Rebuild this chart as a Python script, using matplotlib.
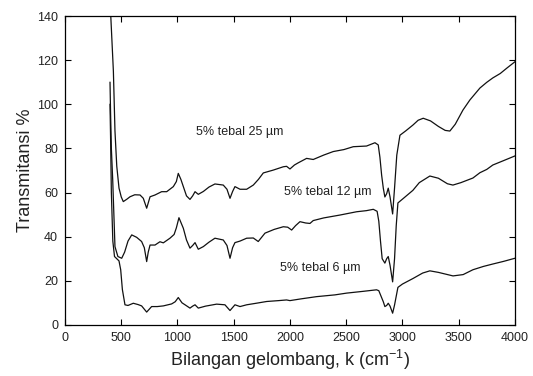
import matplotlib
matplotlib.use('Agg')
import matplotlib.pyplot as plt

plt.rcParams['font.family'] = ['Liberation Sans', 'DejaVu Sans']
plt.rcParams['mathtext.default'] = 'regular'

# 5% tebal 25 um
k25 = [405, 430, 444, 460, 480, 500, 518, 550, 578, 620, 667, 696, 726, 756, 800, 859,
       904, 963, 990, 1007, 1030, 1052, 1080, 1111, 1135, 1156, 1185, 1230, 1280, 1333,
       1407, 1440, 1467, 1490, 1511, 1556, 1615, 1674, 1720, 1763, 1852, 1941, 1970, 2000,
       2040, 2074, 2148, 2207, 2300, 2385, 2480, 2563, 2681, 2756, 2785, 2800, 2815, 2830,
       2844, 2860, 2874, 2890, 2913, 2930, 2950, 2978, 3030, 3093, 3140, 3185, 3250, 3320,
       3380, 3422, 3470, 3538, 3600, 3689, 3750, 3804, 3870, 3930, 4000]
t25 = [142, 115, 88, 72, 62, 58, 55.9, 57, 58.1, 59, 58.9, 57.4, 52.9, 58.1, 58.9, 60.4,
       60.4, 62.7, 65, 68.7, 66, 62.7, 58.5, 56.9, 58.5, 60.4, 59.2, 60.5, 62.5, 63.9,
       63.4, 61.5, 57.4, 60.5, 62.7, 61.5, 61.5, 63.4, 66, 68.9, 70.2, 71.7, 71.9, 70.7,
       72.5, 73.5, 75.5, 75, 77, 78.6, 79.5, 80.8, 81.1, 82.6, 81.6, 76, 68, 62,
       58, 59.5, 62, 58, 50.3, 62, 77, 86, 88, 90.6, 92.8, 93.7, 92.5, 90,
       88.2, 87.9, 91, 97.4, 102, 107.4, 110, 112, 114, 116.5, 119.3]

# 5% tebal 12 um
k12 = [400, 405, 412, 424, 444, 470, 504, 530, 560, 593, 637, 681, 705, 726, 740, 756,
       800, 844, 874, 933, 970, 990, 1013, 1030, 1052, 1080, 1111, 1135, 1156, 1185, 1230,
       1280, 1333, 1407, 1440, 1467, 1490, 1511, 1556, 1615, 1674, 1718, 1778, 1860, 1941,
       1980, 2015, 2050, 2089, 2140, 2178, 2207, 2300, 2444, 2593, 2680, 2741, 2775, 2790,
       2805, 2820, 2844, 2860, 2874, 2890, 2913, 2930, 2945, 2960, 3000, 3093, 3150, 3244,
       3320, 3400, 3449, 3520, 3627, 3689, 3750, 3804, 3900, 4000]
t12 = [110, 96, 80, 65.7, 35.5, 31, 30.2, 33, 38, 40.8, 39.7, 37.8, 35, 28.7, 33, 36.2,
       36.2, 37.7, 37.2, 39.3, 41, 44, 48.6, 46.5, 43.8, 38.5, 34.8, 36, 37.3, 34.3, 35.5,
       37.5, 39.3, 38.5, 36, 30.2, 35, 37.3, 38, 39.3, 39.4, 37.8, 41.6, 43.3, 44.5,
       44.3, 43, 45, 46.8, 46.2, 46, 47.3, 48.5, 49.8, 51.3, 51.8, 52.4, 51.5, 47,
       38, 30, 28, 30, 31, 27, 19.5, 30, 45, 55.3, 57, 61, 64.5, 67.5,
       66.5, 64, 63.4, 64.5, 66.6, 69, 70.5, 72.5, 74.5, 76.6]

# 5% tebal 6 um
k6 = [400, 405, 412, 425, 440, 460, 480, 495, 510, 533, 560, 607, 650, 681, 726, 770,
      820, 874, 948, 980, 1007, 1040, 1067, 1111, 1135, 1156, 1185, 1250, 1348, 1422,
      1467, 1511, 1556, 1615, 1700, 1793, 1900, 1970, 2000, 2100, 2237, 2400, 2504, 2650,
      2770, 2790, 2810, 2830, 2844, 2860, 2874, 2890, 2913, 2930, 2960, 3000, 3093, 3180,
      3244, 3320, 3450, 3540, 3627, 3720, 3804, 3900, 4000]
t6 = [100, 85, 60, 38, 31, 30, 29, 25, 16, 9.1, 8.8, 9.8, 9.2, 8.6, 5.8, 8.3,
      8.3, 8.6, 9.5, 10.5, 12.4, 10, 9.1, 7.6, 8.5, 9.1, 7.6, 8.5, 9.4, 9.1,
      6.5, 9.1, 8.3, 9.1, 9.8, 10.6, 11, 11.3, 11, 11.8, 12.8, 13.6, 14.4, 15.2,
      15.9, 15.5, 13, 10.5, 8.3, 8.8, 9.8, 8.5, 5.3, 9, 17, 18.5, 21, 23.5,
      24.5, 23.8, 22.2, 22.8, 25, 26.5, 27.6, 28.8, 30.2]

labels = ['5% tebal 25 µm', '5% tebal 12 µm', '5% tebal 6 µm']
label_pos = [(1556, 87.4), (2338, 60.3), (2267, 25.8)]

fig = plt.figure(figsize=(5.33, 3.76), dpi=100)
ax = fig.add_axes([0.122, 0.136, 0.844, 0.821])

for k, t in [(k25, t25), (k12, t12), (k6, t6)]:
    ax.plot(k, t, color='#111111', lw=0.9)

for txt, (x, y) in zip(labels, label_pos):
    ax.text(x, y, txt, ha='center', va='center', fontsize=9, color='#222222')

ax.set_xlim(0, 4000)
ax.set_ylim(0, 140)
ax.set_xticks(range(0, 4001, 500))
ax.set_yticks(range(0, 141, 20))
ax.tick_params(direction='in', top=True, right=True, length=4, width=0.8,
               labelsize=9, labelcolor='#222222', pad=5)
for s in ax.spines.values():
    s.set_linewidth(0.9)

ax.set_xlabel('Bilangan gelombang, k (cm$^{-1}$)', fontsize=13, color='#222222', labelpad=3)
ax.set_ylabel('Transmitansi %', fontsize=13, color='#222222', labelpad=2)

fig.savefig('out.png', dpi=100)
